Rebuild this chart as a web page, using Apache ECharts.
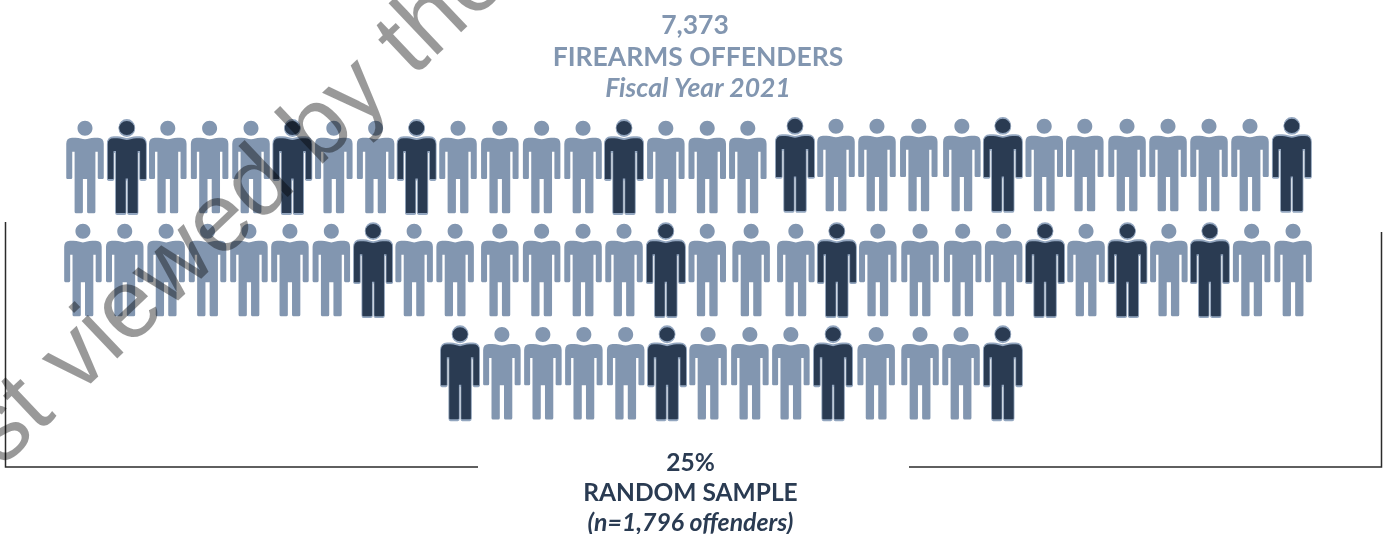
<!DOCTYPE html>
<html>
<head>
<meta charset="utf-8">
<style>html,body{margin:0;padding:0;background:#fff}#c{width:1392px;height:534px}</style>
<script src="https://cdn.jsdelivr.net/npm/echarts@6/dist/echarts.min.js"></script>
</head>
<body>
<div id="c"></div>
<script>
// Figure positions along the row, in "figure slots"; rows are counted from the top.
const row1Slots = [0,1.01,2.00,3.01,4.01,5.01,6.01,7.02,8.01,9.01,10.02,11.03,12.03,13.02,14.03,15.03,16.01,17.15,18.14,19.13,20.14,21.18,22.17,23.17,24.15,25.17,26.16,27.15,28.14,29.15];
const row2Slots = [-0.05,0.96,1.96,2.96,3.96,4.95,5.95,6.96,7.95,8.94,10.02,11.03,12.03,13.02,14.03,15.03,16.09,17.17,18.16,19.15,20.17,21.2,22.19,23.19,24.18,25.18,26.18,27.17,28.18,29.18];
const row3Slots = [9.06,10.07,11.06,12.05,13.06,14.06,15.05,16.06,17.05,18.07,19.11,20.17,21.16,22.17];
// 1 = offender in the random sample (dark figure)
const row1Sampled = [0,1,0,0,0,1,0,0,1,0,0,0,0,1,0,0,0,1,0,0,0,0,1,0,0,0,0,0,0,1];
const row2Sampled = [0,0,0,0,0,0,0,1,0,0,0,0,0,0,1,0,0,0,1,0,0,0,0,1,0,1,0,1,0,0];
const row3Sampled = [1,0,0,0,0,1,0,0,0,1,0,0,0,1];
// Row levels: the right part of the first row sits slightly higher.
const row1Levels = [0,0,0,0,0,0,0,0,0,0,0,0,0,0,0,0,0,-0.02,-0.02,-0.02,-0.02,-0.02,-0.02,-0.02,-0.02,-0.02,-0.02,-0.02,-0.02,-0.02];
const row2Level = 1;
const row3Level = 2;
const headerLines = ['7,373','FIREARMS OFFENDERS','Fiscal Year 2021'];
const footerLines = ['25%','RANDOM SAMPLE','(n=1,796 offenders)'];
const watermark = 'st viewed by the';

const LIGHT = '#8296b0', DARK = '#2a3b52';
const person = 'path://M0 0 C4.14 0 7.5 3.36 7.5 7.5 C7.5 11.64 4.14 15 0 15 C-4.14 15 -7.5 11.64 -7.5 7.5 C-7.5 3.36 -4.14 0 0 0 Z ' +
  'M0 18.6 C3 18.6 5 17 9.5 17 L13 17 Q18.75 17 18.75 23 L18.75 57 Q18.75 58.3 17.5 58.3 L14 58.3 Q12.75 58.3 12.75 57 L12.75 31 L10.4 31 L10.4 91 Q10.4 92.5 8.9 92.5 L3.6 92.5 Q2.1 92.5 2.1 91 L2.1 58.3 ' +
  'L-2.1 58.3 L-2.1 91 Q-2.1 92.5 -3.6 92.5 L-8.9 92.5 Q-10.4 92.5 -10.4 91 L-10.4 31 L-12.75 31 L-12.75 57 Q-12.75 58.3 -14 58.3 L-17.5 58.3 Q-18.75 58.3 -18.75 57 L-18.75 23 Q-18.75 17 -13 17 L-9.5 17 C-5 17 -3 18.6 0 18.6 Z';
const personSampled = 'path://M0 0 C4.42 0 8 3.58 8 8 C8 12.42 4.42 16 0 16 C-4.42 16 -8 12.42 -8 8 C-8 3.58 -4.42 0 0 0 Z ' +
  'M0 19 C3 19 5 17.2 9.5 17.2 L13 17.2 Q19.5 17.2 19.5 24 L19.5 58.8 Q19.5 60 18.2 60 L14.2 60 Q12.9 60 12.9 58.8 L12.9 32 L11.2 32 L11.2 92.4 Q11.2 94 9.6 94 L2.4 94 Q0.8 94 0.8 92.4 L0.8 59.5 ' +
  'L-0.8 59.5 L-0.8 92.4 Q-0.8 94 -2.4 94 L-9.6 94 Q-11.2 94 -11.2 92.4 L-11.2 32 L-12.9 32 L-12.9 58.8 Q-12.9 60 -14.2 60 L-18.2 60 Q-19.5 60 -19.5 58.8 L-19.5 24 Q-19.5 17.2 -13 17.2 L-9.5 17.2 C-5 17.2 -3 19 0 19 Z';

function pts(slots, flags, levelOf, want) {
  const out = [];
  slots.forEach((s, i) => { if (flags[i] === want) out.push([s, levelOf(i)]); });
  return out;
}
function group(want) {
  return [].concat(
    pts(row1Slots, row1Sampled, i => row1Levels[i], want),
    pts(row2Slots, row2Sampled, () => row2Level, want),
    pts(row3Slots, row3Sampled, () => row3Level, want)
  );
}
const textCommon = {fontFamily: 'Lato', fontWeight: 'bold'};
function title(text, left, top, color, size, style) {
  return {text, left, top, textAlign: 'center', padding: 0,
    textStyle: Object.assign({}, textCommon, {color, fontSize: size, fontStyle: style || 'normal', lineHeight: size + 4})};
}
const chart = echarts.init(document.getElementById('c'), null, {renderer: 'canvas'});
chart.setOption({
  animation: false,
  backgroundColor: '#fff',
  title: [
    title(headerLines[0], 695, 10, LIGHT, 26.5),
    title(headerLines[1], 698, 42, LIGHT, 26.5),
    title(headerLines[2], 698, 73, LIGHT, 26.5, 'italic'),
    title(footerLines[0], 690.5, 449, DARK, 24.5),
    title(footerLines[1], 690.5, 479, DARK, 24.5),
    title(footerLines[2], 690.5, 509, DARK, 24.8, 'italic')
  ],
  grid: {left: 0, right: 0, top: 0, bottom: 0},
  xAxis: {type: 'value', min: -85 / 41.4, max: (1392 - 85) / 41.4, show: false},
  yAxis: {type: 'value', inverse: true, min: -167 / 103.1, max: (534 - 167) / 103.1, show: false},
  series: [
    {type: 'scatter', name: 'Firearms offenders', silent: true, symbol: person, symbolSize: [37.5, 92.5],
      itemStyle: {color: LIGHT, opacity: 1}, data: group(0)},
    {type: 'scatter', name: 'Random sample', silent: true, symbol: personSampled, symbolSize: [39, 94],
      itemStyle: {color: DARK, borderColor: '#93a6bf', borderWidth: 1.2, opacity: 1}, data: group(1)}
  ],
  graphic: [
    {type: 'polyline', z: 5, silent: true, shape: {points: [[5.5, 222], [5.5, 467], [478, 467]]}, style: {stroke: '#2b2b2b', lineWidth: 1.5, fill: null}},
    {type: 'polyline', z: 5, silent: true, shape: {points: [[909, 467], [1381.5, 467], [1381.5, 232]]}, style: {stroke: '#2b2b2b', lineWidth: 1.5, fill: null}},
    {type: 'text', z: 50, silent: true, x: 17, y: 484, rotation: 43.5 * Math.PI / 180,
      style: {text: watermark, font: '98px "Liberation Sans"', fill: 'rgba(0,0,0,0.4)', textAlign: 'left', verticalAlign: 'bottom'}}
  ]
});
</script>
</body>
</html>
